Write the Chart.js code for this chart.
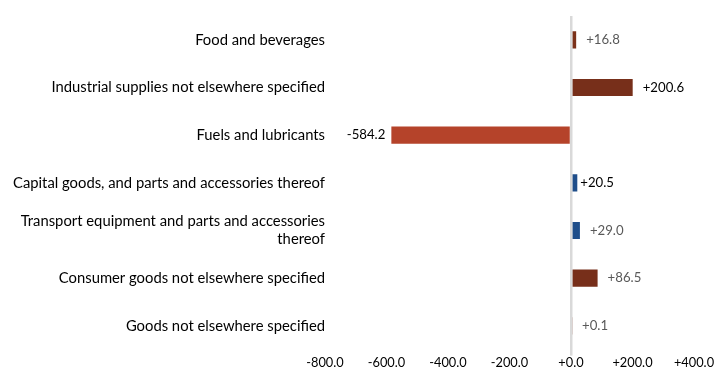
<!DOCTYPE html>
<html>
<head>
<meta charset="utf-8">
<script src="https://cdn.jsdelivr.net/npm/chart.js@4.4.0/dist/chart.umd.min.js"></script>
<style>
    html, body { margin: 0; padding: 0; background: #fff; }
    #wrap { width: 723px; height: 371px; position: relative; }
</style>
</head>
<body>
<div id="wrap"><canvas id="Chart"></canvas></div>
<script>
// categories and changes
const categories = [
    "Food and beverages",
    "Industrial supplies not elsewhere specified",
    "Fuels and lubricants",
    "Capital goods, and parts and accessories thereof",
    ["Transport equipment and parts and accessories", "thereof"],
    "Consumer goods not elsewhere specified",
    "Goods not elsewhere specified",
];
const values = [16.8, 200.6, -584.2, 20.5, 29.0, 86.5, 0.1];
const barColors = ["#7b3119", "#772f1a", "#b5432a", "#1f4e8a", "#1f4e8a", "#772f1a", "#772f1a"];
const labelColors = ["#595959", "#000000", "#000000", "#000000", "#595959", "#595959", "#595959"];
const labelGap = [10, 10, 6, 3, 10, 10, 11];
const xTicks = [-800, -600, -400, -200, 0, 200, 400];

const FONT = "Lato, 'Open Sans', sans-serif";
const NUM_SIZE = 12.8;

function fmt(v) {
    return (v >= 0 ? "+" : "") + v.toFixed(1);
}

// value labels next to the bar ends
const valueLabels = {
    id: "valueLabels",
    afterDatasetsDraw(chart) {
        const ctx = chart.ctx;
        const meta = chart.getDatasetMeta(0);
        ctx.save();
        ctx.font = "13.2px " + FONT;
        ctx.textBaseline = "middle";
        meta.data.forEach(function (bar, i) {
            const v = values[i];
            ctx.fillStyle = labelColors[i];
            if (v < 0) {
                ctx.textAlign = "right";
                ctx.fillText(fmt(v), bar.x - labelGap[i], bar.y);
            } else {
                ctx.textAlign = "left";
                ctx.fillText(fmt(v), bar.x + labelGap[i], bar.y);
            }
        });
        ctx.restore();
    },
};

const ctx = document.getElementById("Chart").getContext("2d");
new Chart(ctx, {
    type: "bar",
    data: {
        labels: categories,
        datasets: [
            {
                data: values,
                backgroundColor: barColors,
                borderWidth: 0,
                inflateAmount: 0,
                barPercentage: 0.36,
                categoryPercentage: 1.0,
            },
        ],
    },
    options: {
        indexAxis: "y",
        responsive: true,
        maintainAspectRatio: false,
        animation: false,
        layout: {
            padding: { top: 16, right: 29, bottom: 0, left: 0 },
        },
        scales: {
            x: {
                min: -800,
                max: 400,
                afterBuildTicks: function (scale) {
                    scale.ticks = xTicks.map(function (v) { return { value: v }; });
                },
                border: { display: false },
                grid: {
                    z: 1, // zero line sits over the bars
                    color: function (c) { return c.tick && c.tick.value === 0 ? "#d9d9d9" : "rgba(0,0,0,0)"; },
                    lineWidth: 2.5,
                    drawTicks: true,
                    tickLength: 6,
                    tickColor: function (c) { return c.tick && c.tick.value === 0 ? "#d9d9d9" : "rgba(0,0,0,0)"; },
                },
                ticks: {
                    color: "#000",
                    font: { family: FONT, size: NUM_SIZE },
                    padding: 0,
                    maxRotation: 0,
                    callback: function (v) { return fmt(v); },
                },
            },
            y: {
                border: { display: false },
                grid: { display: false, drawTicks: false },
                afterFit: function (scale) { scale.width = 325; },
                ticks: {
                    color: "#000",
                    font: { family: FONT, size: 14.8 },
                    padding: 0,
                },
            },
        },
        plugins: {
            legend: { display: false },
            title: { display: false },
            tooltip: { enabled: false },
        },
    },
    plugins: [valueLabels],
});
</script>
</body>
</html>
